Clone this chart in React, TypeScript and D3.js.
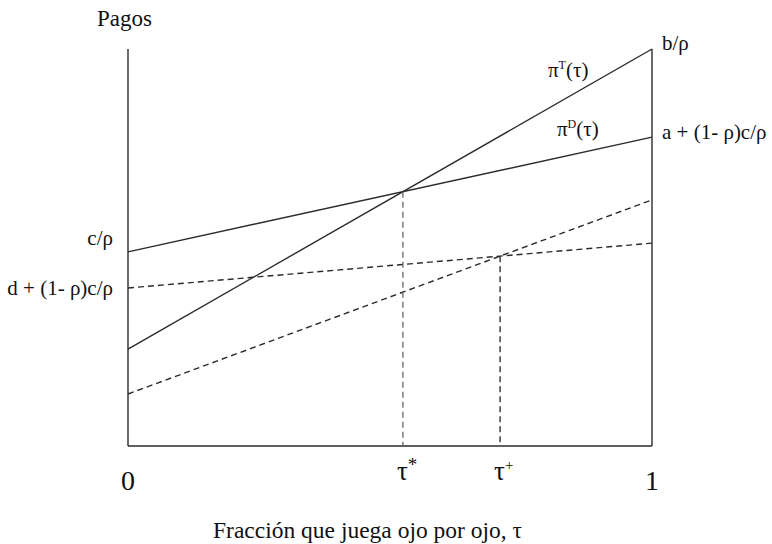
import * as d3 from "d3";

// payoff lines: value at tau = 0 and tau = 1 (share of vertical axis, 0..100)
const lineNames = ["piT", "piD", "dashFlat", "dashSteep"];
const startValues = [24.4, 48.9, 39.8, 13.1];
const endValues = [100, 77.8, 51.1, 62.0];
const dashed = [false, false, true, true];

const xTickLabels = ["0", "1"];
const leftLabels = ["c/ρ", "d + (1- ρ)c/ρ"];
const rightLabels = ["b/ρ", "a + (1- ρ)c/ρ"];

const W = 772;
const H = 544;
const FONT = "Liberation Serif";
const INK = "#2b2b2b";

function crossing(i: number, j: number) {
  const a = startValues[i], b = endValues[i] - startValues[i];
  const c = startValues[j], d = endValues[j] - startValues[j];
  const t = (c - a) / (b - d);
  return { t, v: a + b * t };
}

export default function App() {
  const x = d3.scaleLinear().domain([0, 1]).range([128, 652]);
  const y = d3.scaleLinear().domain([0, 100]).range([446, 49]);

  const starCross = crossing(0, 1);
  const plusCross = crossing(2, 3);

  return (
    <svg width={W} height={H} style={{ position: "absolute", left: 0, top: 0, background: "#fff", fontFamily: FONT }} fill="#111">
      {/* frame: left, right and bottom */}
      <g stroke={INK} strokeWidth={1.4} fill="none">
        <line x1={x(0)} x2={x(0)} y1={y(100)} y2={y(0)} />
        <line x1={x(1)} x2={x(1)} y1={y(100)} y2={y(0)} />
        <line x1={x(0)} x2={x(1)} y1={y(0)} y2={y(0)} />
      </g>

      {lineNames.map((n, i) => (
        <line
          key={n}
          x1={x(0)}
          y1={y(startValues[i])}
          x2={x(1)}
          y2={y(endValues[i])}
          stroke={INK}
          strokeWidth={1.4}
          strokeDasharray={dashed[i] ? "6 4" : undefined}
        />
      ))}

      {/* vertical guides at the crossings */}
      <line x1={x(starCross.t)} x2={x(starCross.t)} y1={y(starCross.v)} y2={y(0)} stroke="#666" strokeWidth={1.3} strokeDasharray="6 4" />
      <line x1={x(plusCross.t)} x2={x(plusCross.t)} y1={y(plusCross.v)} y2={y(0)} stroke="#222" strokeWidth={1.3} strokeDasharray="6 4" />

      <text x={97} y={26} fontSize={23}>Pagos</text>

      {xTickLabels.map((l, i) => (
        <text key={l} x={x(i)} y={490} fontSize={28} textAnchor="middle">{l}</text>
      ))}
      <text x={x(starCross.t) - 6} y={480} fontSize={27}>τ<tspan dy={-9} fontSize={19}>*</tspan></text>
      <text x={x(plusCross.t) - 6} y={480} fontSize={27}>τ<tspan dy={-10} fontSize={15}>+</tspan></text>

      <text x={213} y={538} fontSize={23.5}>Fracción que juega ojo por ojo, τ</text>

      <text x={113} y={y(startValues[1]) - 7} fontSize={21} textAnchor="end">{leftLabels[0]}</text>
      <text x={113} y={y(startValues[2]) + 7} fontSize={21} textAnchor="end">{leftLabels[1]}</text>

      <text x={662} y={y(endValues[0]) + 1} fontSize={21}>{rightLabels[0]}</text>
      <text x={662} y={y(endValues[1]) + 2} fontSize={21}>{rightLabels[1]}</text>

      <text x={548} y={77} fontSize={21}>π<tspan dy={-8} fontSize={12}>T</tspan><tspan dy={8}>(τ)</tspan></text>
      <text x={557} y={136} fontSize={21}>π<tspan dy={-8} fontSize={12}>D</tspan><tspan dy={8}>(τ)</tspan></text>
    </svg>
  );
}
